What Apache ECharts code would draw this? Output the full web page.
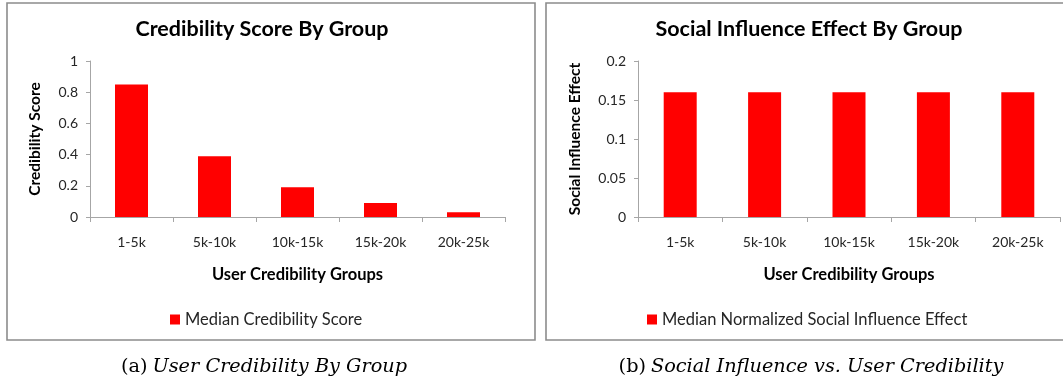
<!DOCTYPE html>
<html>
<head>
<meta charset="utf-8">
<script src="https://cdn.jsdelivr.net/npm/echarts@6/dist/echarts.min.js"></script>
<style>
  html, body { margin: 0; padding: 0; background: #fff; }
  #chart { width: 1063px; height: 378px; }
</style>
</head>
<body>
<div id="chart"></div>
<script>
// Credibility groups shared by both panels
const groups = ['1-5k', '5k-10k', '10k-15k', '15k-20k', '20k-25k'];
// Panel (a): median credibility score per group
const credibilityScore = [0.85, 0.39, 0.19, 0.09, 0.03];
// Panel (b): median normalized social influence effect per group
const socialInfluence = [0.16, 0.16, 0.16, 0.16, 0.16];
const leftTicks = { min: 0, max: 1, interval: 0.2 };
const rightTicks = { min: 0, max: 0.2, interval: 0.05 };

const FONT = 'Lato';
const SERIF = 'DejaVu Serif';
const TEXT = '#262626';
const AXIS = '#a6a6a6';
const RED = '#ff0000';

const chart = echarts.init(document.getElementById('chart'), null, { renderer: 'canvas' });

function xAxisFor(gridIndex) {
  return {
    type: 'category', gridIndex, data: groups,
    axisLine: { lineStyle: { color: AXIS, width: 1 } },
    axisTick: { show: true, length: 5, alignWithLabel: false, lineStyle: { color: AXIS } },
    axisLabel: { color: TEXT, fontFamily: FONT, fontSize: 14, margin: 18 },
    name: 'User Credibility Groups', nameLocation: 'middle', nameGap: 49,
    nameTextStyle: { color: '#000', fontFamily: FONT, fontWeight: 'bold', fontSize: 16.5 }
  };
}
function yAxisFor(gridIndex, t, name, gap) {
  return {
    type: 'value', gridIndex, min: t.min, max: t.max, interval: t.interval,
    axisLine: { show: true, lineStyle: { color: AXIS, width: 1 } },
    axisTick: { show: true, length: 4, lineStyle: { color: AXIS } },
    splitLine: { show: false },
    axisLabel: { color: TEXT, fontFamily: FONT, fontSize: 14, margin: 12 },
    name, nameLocation: 'middle', nameRotate: 90, nameGap: gap,
    nameTextStyle: { color: '#000', fontFamily: FONT, fontWeight: 'bold', fontSize: 15.5 }
  };
}

const captionRich = {
  n: { fontFamily: SERIF, fontSize: 19.3, fontWeight: 'normal', color: '#000' },
  i: { fontFamily: SERIF, fontStyle: 'italic', fontSize: 19.3, fontWeight: 'normal', color: '#000' }
};

const option = {
  animation: false,
  backgroundColor: '#fff',
  graphic: [
    { type: 'rect', shape: { x: 7, y: 3, width: 528, height: 337 },
      style: { fill: 'none', stroke: '#8c8c8c', lineWidth: 1.6 } },
    { type: 'rect', shape: { x: 546, y: 3, width: 530, height: 337 },
      style: { fill: 'none', stroke: '#8c8c8c', lineWidth: 1.6 } }
  ],
  title: [
    { text: 'Credibility Score By Group', left: 262, top: 18, textAlign: 'center', padding: 0,
      textStyle: { fontFamily: FONT, fontWeight: 'bold', fontSize: 21.5, color: '#000' } },
    { text: 'Social Influence Effect By Group', left: 809, top: 18, textAlign: 'center', padding: 0,
      textStyle: { fontFamily: FONT, fontWeight: 'bold', fontSize: 21.5, color: '#000' } },
    { text: '{n|(a)} {i|User Credibility By Group}', left: 264, top: 357, textAlign: 'center', padding: 0,
      textStyle: { fontWeight: 'normal', rich: captionRich } },
    { text: '{n|(b)} {i|Social Influence vs. User Credibility}', left: 811, top: 357, textAlign: 'center', padding: 0,
      textStyle: { fontWeight: 'normal', rich: captionRich } }
  ],
  legend: [
    { data: ['Median Credibility Score'], left: 170, top: 311, padding: 0, itemWidth: 10, itemHeight: 10,
      itemGap: 6, icon: 'rect',
      textStyle: { fontFamily: FONT, fontSize: 16.5, color: TEXT } },
    { data: ['Median Normalized Social Influence Effect'], left: 647, top: 311, padding: 0, itemWidth: 10, itemHeight: 10,
      itemGap: 6, icon: 'rect',
      textStyle: { fontFamily: FONT, fontSize: 16.5, color: TEXT } }
  ],
  grid: [
    { left: 90, right: 558, top: 61, bottom: 161 },
    { left: 638, right: 3, top: 61, bottom: 161 }
  ],
  xAxis: [xAxisFor(0), xAxisFor(1)],
  yAxis: [
    yAxisFor(0, leftTicks, 'Credibility Score', 47),
    yAxisFor(1, rightTicks, 'Social Influence Effect', 55)
  ],
  series: [
    { name: 'Median Credibility Score', type: 'bar', xAxisIndex: 0, yAxisIndex: 0,
      data: credibilityScore, barWidth: 33, itemStyle: { color: RED } },
    { name: 'Median Normalized Social Influence Effect', type: 'bar', xAxisIndex: 1, yAxisIndex: 1,
      data: socialInfluence, barWidth: 33, itemStyle: { color: RED } }
  ]
};
chart.setOption(option);
</script>
</body>
</html>
